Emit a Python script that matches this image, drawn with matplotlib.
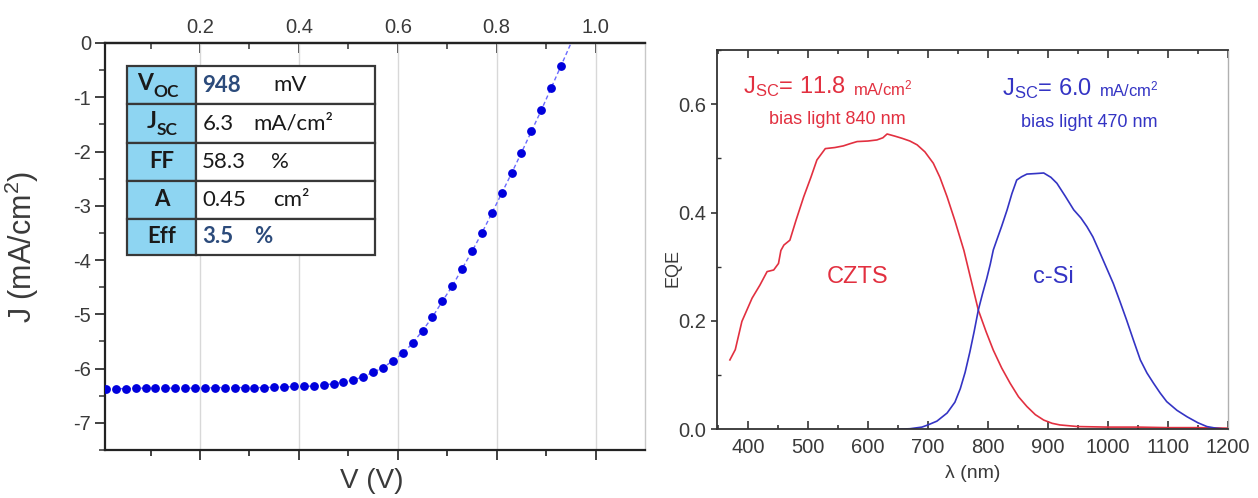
import matplotlib
matplotlib.use('Agg')
import matplotlib.pyplot as plt
from matplotlib.ticker import FixedLocator, MultipleLocator
from matplotlib.patches import Rectangle

plt.rcParams['font.family'] = ['Liberation Sans', 'DejaVu Sans']
plt.rcParams['axes.unicode_minus'] = False
plt.rcParams['mathtext.fontset'] = 'custom'
plt.rcParams['mathtext.rm'] = 'Liberation Sans'
plt.rcParams['mathtext.it'] = 'Liberation Sans:italic'
plt.rcParams['mathtext.bf'] = 'Liberation Sans:bold'

# ---------------- data: J-V curve ----------------
voltage = [0.01, 0.03, 0.05, 0.07, 0.09, 0.11, 0.13, 0.15, 0.17, 0.19, 0.21, 0.23,
           0.25, 0.27, 0.29, 0.31, 0.33, 0.35, 0.37, 0.39, 0.41, 0.43, 0.45, 0.47,
           0.49, 0.51, 0.53, 0.55, 0.57, 0.59, 0.61, 0.63, 0.65, 0.67, 0.69, 0.71,
           0.73, 0.75, 0.77, 0.79, 0.81, 0.83, 0.85, 0.87, 0.89, 0.91, 0.93]
current = [-6.37, -6.37, -6.37, -6.36, -6.36, -6.36, -6.36, -6.36, -6.36, -6.36, -6.36, -6.35,
           -6.35, -6.35, -6.35, -6.35, -6.35, -6.34, -6.34, -6.33, -6.33, -6.32, -6.30, -6.28,
           -6.25, -6.21, -6.15, -6.07, -5.98, -5.86, -5.72, -5.53, -5.30, -5.05, -4.76, -4.48,
           -4.16, -3.84, -3.50, -3.14, -2.77, -2.40, -2.02, -1.63, -1.24, -0.83, -0.42]
voltage_fit_end = [0.93, 0.96]
current_fit_end = [-0.42, 0.2]

# table of cell parameters
table_labels = ['V', 'J', 'FF', 'A', 'Eff']
table_subs = ['OC', 'SC', '', '', '']
table_values = ['948', '6.3', '58.3', '0.45', '3.5']
table_units = ['mV', 'mA/cm²', '%', 'cm²', '%']
value_bold = [True, False, False, False, True]
unit_bold = [False, False, False, False, True]

v_ticks = [0.2, 0.4, 0.6, 0.8, 1.0]
v_ticklabels = ['0.2', '0.4', '0.6', '0.8', '1.0']
j_ticks = [0, -1, -2, -3, -4, -5, -6, -7]

# ---------------- data: EQE ----------------
lam_czts = [370, 379, 390, 407, 420, 432, 443, 451, 455, 460, 470, 480, 493, 505, 515,
            529, 545, 559, 570, 582, 600, 615, 625, 632, 645, 657, 670, 682, 695, 709,
            720, 732, 745, 760, 772, 784, 797, 809, 823, 837, 851, 865, 879, 893, 907,
            920, 950, 1000, 1050, 1100, 1150, 1200]
eqe_czts = [0.128, 0.147, 0.199, 0.242, 0.266, 0.291, 0.294, 0.306, 0.330, 0.340, 0.349,
            0.385, 0.429, 0.465, 0.497, 0.518, 0.520, 0.523, 0.527, 0.531, 0.532, 0.534,
            0.538, 0.545, 0.541, 0.537, 0.532, 0.525, 0.512, 0.491, 0.465, 0.429, 0.385,
            0.330, 0.275, 0.220, 0.180, 0.146, 0.113, 0.085, 0.060, 0.042, 0.027, 0.017,
            0.011, 0.008, 0.005, 0.004, 0.004, 0.003, 0.003, 0.002]
lam_si = [648, 670, 690, 700, 715, 732, 745, 754, 762, 770, 777, 784, 791, 798, 804, 809,
          815, 823, 832, 840, 848, 856, 865, 880, 893, 905, 915, 929, 943, 955, 965, 975,
          987, 998, 1009, 1020, 1031, 1043, 1054, 1065, 1076, 1087, 1098, 1115, 1132, 1150,
          1165, 1180, 1198]
eqe_si = [0.0, 0.001, 0.004, 0.008, 0.015, 0.030, 0.050, 0.075, 0.105, 0.143, 0.180, 0.220,
          0.250, 0.278, 0.305, 0.331, 0.350, 0.375, 0.405, 0.435, 0.460, 0.466, 0.471, 0.472,
          0.473, 0.465, 0.454, 0.430, 0.405, 0.390, 0.374, 0.355, 0.325, 0.297, 0.269, 0.236,
          0.202, 0.163, 0.128, 0.104, 0.085, 0.067, 0.051, 0.035, 0.023, 0.012, 0.005, 0.002,
          0.0]
lam_ticks = [400, 500, 600, 700, 800, 900, 1000, 1100, 1200]
eqe_ticks = [0.0, 0.2, 0.4, 0.6]
eqe_ticklabels = ['0.0', '0.2', '0.4', '0.6']

red = '#e23040'
blue = '#3434c4'
tick_color = '#3a3a3a'

fig = plt.figure(figsize=(12.58, 4.98), dpi=100)

# ================= left: J-V =================
ax1 = fig.add_axes([0.0835, 0.0964, 0.4293, 0.8173])
ax1.set_xlim(0.008, 1.10)
ax1.set_ylim(-7.5, 0)
ax1.plot(voltage + voltage_fit_end[1:], current + current_fit_end[1:], ls=(0, (3, 2)),
         color='#6a6aff', lw=1.0, zorder=3)
ax1.plot(voltage, current, 'o', color='#0000dc', ms=5.3, zorder=4)

ax1.xaxis.set_major_locator(FixedLocator(v_ticks))
ax1.xaxis.set_minor_locator(FixedLocator([0.1, 0.3, 0.5, 0.7, 0.9]))
ax1.yaxis.set_major_locator(FixedLocator(j_ticks))
ax1.yaxis.set_minor_locator(MultipleLocator(0.5))
ax1.set_yticklabels([str(t) for t in j_ticks])
ax1.tick_params(axis='x', which='both', direction='out', bottom=True, top=False,
                labelbottom=False, color='#333333', width=1.3)
ax1.tick_params(axis='x', which='major', length=7)
ax1.tick_params(axis='x', which='minor', length=4)
ax1.tick_params(axis='y', which='major', direction='out', length=7, width=1.3,
                labelsize=14.5, labelcolor=tick_color, color='#333333', pad=3)
ax1.tick_params(axis='y', which='minor', direction='out', length=4, width=1.1, color='#333333')
ax1.grid(axis='x', which='major', color='#d8d8d8', lw=1.0, zorder=0)
for s in ['left', 'bottom', 'top']:
    ax1.spines[s].set_color('#222222')
    ax1.spines[s].set_linewidth(1.6)
ax1.spines['right'].set_color('#c8c8c8')
ax1.spines['right'].set_linewidth(1.0)

sec = ax1.secondary_xaxis('top')
sec.xaxis.set_major_locator(FixedLocator(v_ticks))
sec.xaxis.set_minor_locator(FixedLocator([0.1, 0.3, 0.5, 0.7, 0.9]))
sec.set_xticklabels(v_ticklabels)
sec.tick_params(axis='x', which='major', direction='in', length=7, width=1.3,
                labelsize=14.5, labelcolor=tick_color, color='#333333', pad=4)
sec.tick_params(axis='x', which='minor', direction='in', length=4, width=1.1, color='#333333')
sec.spines['top'].set_color('#222222')
sec.spines['top'].set_linewidth(1.6)

ax1.set_xlabel('V (V)', fontsize=20, color='#3a3a3a')
ax1.xaxis.set_label_coords(0.494, -0.045)
ax1.set_ylabel('J (mA/cm$^2$)', fontsize=22, color='#3a3a3a')
ax1.yaxis.set_label_coords(-0.118, 0.5)

# table
tx0, tx1, tx2 = 0.0407, 0.1685, 0.5
row_edges = [0.944, 0.849, 0.755, 0.661, 0.568, 0.479]
unit_x = [0.311, 0.274, 0.307, 0.311, 0.276]
sub_anchor = [0.0889, 0.0963]
tfont = ['Lato', 'DejaVu Sans']
val_color = '#2c4b7b'
for i in range(5):
    top, bot = row_edges[i], row_edges[i + 1]
    yc = (top + bot) / 2
    ax1.add_patch(Rectangle((tx0, bot), tx1 - tx0, top - bot, transform=ax1.transAxes,
                            facecolor='#8ed5f2', edgecolor='#383838', lw=1.6, zorder=6))
    ax1.add_patch(Rectangle((tx1, bot), tx2 - tx1, top - bot, transform=ax1.transAxes,
                            facecolor='white', edgecolor='#383838', lw=1.6, zorder=6))
    if table_subs[i]:
        ax1.text(sub_anchor[i], yc + 0.004, table_labels[i], transform=ax1.transAxes,
                 ha='right', va='center', fontsize=16.5, fontweight='bold', family=tfont,
                 color='#1a1a1a', zorder=7)
        ax1.text(sub_anchor[i], yc - 0.016, table_subs[i], transform=ax1.transAxes, ha='left',
                 va='center', fontsize=12.5, fontweight='bold', family=tfont, color='#1a1a1a',
                 zorder=7)
    else:
        ax1.text((tx0 + tx1) / 2, yc, table_labels[i], transform=ax1.transAxes, ha='center',
                 va='center', fontsize=16, fontweight='bold', family=tfont, color='#1a1a1a',
                 zorder=7)
    ax1.text(0.18, yc, table_values[i], transform=ax1.transAxes, ha='left', va='center',
             fontsize=16, fontweight='bold' if value_bold[i] else 'normal', family=tfont,
             color=val_color if value_bold[i] else '#1a1a1a', zorder=7)
    ax1.text(unit_x[i], yc, table_units[i], transform=ax1.transAxes, ha='left', va='center',
             fontsize=16, fontweight='bold' if unit_bold[i] else 'normal', family=tfont,
             color=val_color if unit_bold[i] else '#1a1a1a', zorder=7)

# ================= right: EQE =================
ax2 = fig.add_axes([0.5697, 0.138, 0.4064, 0.7616])
ax2.plot(lam_czts, eqe_czts, color=red, lw=1.2)
ax2.plot(lam_si, eqe_si, color=blue, lw=1.2)
ax2.set_xlim(348, 1200)
ax2.set_ylim(0, 0.70)
ax2.xaxis.set_major_locator(FixedLocator(lam_ticks))
ax2.xaxis.set_minor_locator(MultipleLocator(50))
ax2.yaxis.set_major_locator(FixedLocator(eqe_ticks))
ax2.yaxis.set_minor_locator(MultipleLocator(0.1))
ax2.set_yticklabels(eqe_ticklabels)
ax2.tick_params(axis='x', which='both', direction='in', top=True, bottom=True,
                color='#333333', width=1.2)
ax2.tick_params(axis='x', which='major', length=6, labelsize=14.5, labelcolor=tick_color, pad=6)
ax2.tick_params(axis='x', which='minor', length=3)
ax2.tick_params(axis='y', which='major', direction='out', length=4, width=1.2,
                labelsize=14.5, labelcolor=tick_color, color='#333333')
ax2.tick_params(axis='y', which='minor', direction='in', length=3, width=1.0, color='#333333')
for s in ['left', 'bottom', 'top']:
    ax2.spines[s].set_color('#333333')
    ax2.spines[s].set_linewidth(1.3)
ax2.spines['right'].set_color('#b0b0b0')
ax2.spines['right'].set_linewidth(1.0)
ax2.set_xlabel('λ (nm)', fontsize=14, color='#3a3a3a', labelpad=6)
ax2.set_ylabel('EQE', fontsize=13, color='#3a3a3a')
ax2.yaxis.set_label_coords(-0.068, 0.425)

t_red = ax2.text(392, 0.62, 'J$_\\mathregular{SC}$= 11.8', color=red, fontsize=17, ha='left',
                 va='baseline')
ax2.annotate('mA/cm$^2$', xy=(1, 0), xycoords=t_red, xytext=(5, 3.0),
             textcoords='offset points', color=red, fontsize=12, ha='left', va='baseline')
ax2.text(549, 0.563, 'bias light 840 nm', color=red, fontsize=13, ha='center', va='baseline')
t_blue = ax2.text(824, 0.617, 'J$_\\mathregular{SC}$= 6.0', color=blue, fontsize=17, ha='left',
                  va='baseline')
ax2.annotate('mA/cm$^2$', xy=(1, 0), xycoords=t_blue, xytext=(5, 3.0),
             textcoords='offset points', color=blue, fontsize=12, ha='left', va='baseline')
ax2.text(969, 0.558, 'bias light 470 nm', color=blue, fontsize=13, ha='center', va='baseline')
ax2.text(582, 0.281, 'CZTS', color=red, fontsize=17, ha='center', va='center')
ax2.text(909, 0.281, 'c-Si', color=blue, fontsize=17, ha='center', va='center')

fig.savefig('out.png', dpi=100)
